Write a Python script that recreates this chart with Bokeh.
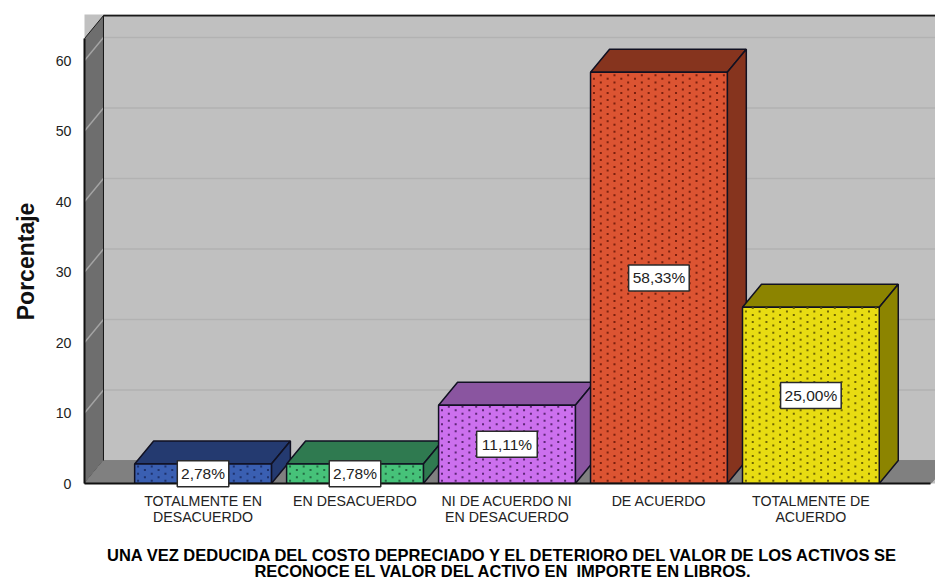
import math

from bokeh.plotting import figure
from bokeh.models import FixedTicker, Range1d
from bokeh.core.properties import value
from bokeh.embed import file_html
from bokeh.resources import INLINE

# Survey responses, percent of respondents
categories = ["TOTALMENTE EN\nDESACUERDO", "EN DESACUERDO", "NI DE ACUERDO NI\nEN DESACUERDO",
              "DE ACUERDO", "TOTALMENTE DE\nACUERDO"]
percentages = [2.78, 2.78, 11.11, 58.33, 25.00]
value_labels = ["2,78%", "2,78%", "11,11%", "58,33%", "25,00%"]
front_colors = ["#3A5FB2", "#46C279", "#CC70EE", "#DC5432", "#E8DC12"]
shade_colors = ["#243A70", "#2F7A50", "#8A55A0", "#86341E", "#8C8400"]
stipple_colors = ["#1A2A60", "#1E5A3A", "#4A1A60", "#6A1808", "#5A5200"]
y_ticks = [0, 10, 20, 30, 40, 50, 60]
y_title = "Porcentaje"
x_title_lines = ["UNA VEZ DEDUCIDA DEL COSTO DEPRECIADO Y EL DETERIORO DEL VALOR DE LOS ACTIVOS SE",
                 "RECONOCE EL VALOR DEL ACTIVO EN\u00a0 IMPORTE EN LIBROS."]

# Pseudo-3D box geometry, in axis units
BAR_HALF = 0.45
DEPTH_X = 0.125
DEPTH_Y = 3.26
AXIS_TOP = 63.12
X_LEFT = -0.78
X_RIGHT = 4.82
FLOOR_END = 4.79
# Stipple lattice spacing, in axis units
STIPPLE_DX = 0.045
STIPPLE_DY = 1.0
# Anchors of the titles that sit outside the plot frame, in axis units
X_TITLE_POS = (1.975, [-10.2, -12.48])
Y_TITLE_POS = (-1.168, 31.5)

p = figure(width=935, height=581, output_backend="svg", toolbar_location=None,
           x_range=Range1d(X_LEFT, X_RIGHT), y_range=Range1d(0, AXIS_TOP + DEPTH_Y + 0.15),
           min_border_left=84, min_border_right=0, min_border_top=14, min_border_bottom=98,
           background_fill_color="#C0C0C0", border_fill_color="white", outline_line_color=None)
p.grid.visible = False

# Left wall and floor of the chart box
wall_x = [X_LEFT, X_LEFT + DEPTH_X, X_LEFT + DEPTH_X, X_LEFT]
wall_y = [0, DEPTH_Y, AXIS_TOP + DEPTH_Y, AXIS_TOP]
p.patch(wall_x, wall_y, fill_color="#6E6E6E", line_color="#1A1A1A", line_width=1)
floor_x = [X_LEFT, X_LEFT + DEPTH_X, FLOOR_END + DEPTH_X, FLOOR_END]
floor_y = [0, DEPTH_Y, DEPTH_Y, 0]
p.patch(floor_x, floor_y, fill_color="#808080", line_color="#808080", line_width=1)

# Gridlines on the back wall and their continuation across the left wall
ticks_up = [t + DEPTH_Y for t in y_ticks[1:]]
p.segment(X_LEFT + DEPTH_X, ticks_up, X_RIGHT, ticks_up, line_color="#B2B2B2", line_width=1.5)
p.segment(X_LEFT, y_ticks[1:], X_LEFT + DEPTH_X, ticks_up, line_color="#A4A4A4", line_width=1.5)
p.segment(X_LEFT + DEPTH_X, AXIS_TOP + DEPTH_Y, X_RIGHT, AXIS_TOP + DEPTH_Y, line_color="#1A1A1A", line_width=2)
p.segment(X_LEFT + DEPTH_X, DEPTH_Y, X_LEFT + DEPTH_X, AXIS_TOP + DEPTH_Y, line_color="#1A1A1A", line_width=1)

# Boxes: shaded top and side faces, then the front face with its staggered stipple
positions = list(range(len(percentages)))
for i, v in zip(positions, percentages):
    left, right = i - BAR_HALF, i + BAR_HALF
    p.patch([left, left + DEPTH_X, right + DEPTH_X, right], [v, v + DEPTH_Y, v + DEPTH_Y, v],
            fill_color=shade_colors[i], line_color="#111122", line_width=1.5)
    p.patch([right, right + DEPTH_X, right + DEPTH_X, right], [0, DEPTH_Y, v + DEPTH_Y, v],
            fill_color=shade_colors[i], line_color="#111122", line_width=1.5)
    p.quad(left=left, right=right, bottom=0, top=v, fill_color=front_colors[i],
           line_color="#111122", line_width=1.5)
    dots_x, dots_y = [], []
    column = 0
    x = left + STIPPLE_DX / 2
    while x < right:
        y = STIPPLE_DY * (0.4 + 0.5 * (column % 2))
        while y < v:
            dots_x.append(x)
            dots_y.append(y)
            y += STIPPLE_DY
        x += STIPPLE_DX
        column += 1
    p.scatter(dots_x, dots_y, marker="square", size=2, fill_color=stipple_colors[i],
              line_color=None, fill_alpha=0.85)

# Value tags centred on each front face
tag_y = [v / 2 for v in percentages]
tag_w = [6.0 + 9.1 * len(t) for t in value_labels]
p.rect(positions, tag_y, width=tag_w, height=26, width_units="screen", height_units="screen",
       fill_color="white", line_color="#2A2A2A", line_width=1.5, level="overlay")
p.text(positions, tag_y, text=value_labels, text_align="center", text_baseline="middle",
       text_font=value("Liberation Sans"), text_font_size="15.5px", text_color="#222222",
       level="overlay")

# Axes
p.yaxis.ticker = FixedTicker(ticks=y_ticks)
p.yaxis.bounds = (0, AXIS_TOP)
p.yaxis.major_tick_line_color = None
p.yaxis.minor_tick_line_color = None
p.yaxis.axis_line_color = "#111111"
p.yaxis.axis_line_width = 2
p.yaxis.major_label_text_font = "Liberation Sans"
p.yaxis.major_label_text_font_size = "14.2px"
p.yaxis.major_label_text_color = "#222222"
p.yaxis.major_label_standoff = 7

p.xaxis.ticker = FixedTicker(ticks=positions)
p.xaxis.major_label_overrides = dict(zip(positions, categories))
p.xaxis.bounds = (X_LEFT, FLOOR_END)
p.xaxis.major_tick_line_color = None
p.xaxis.minor_tick_line_color = None
p.xaxis.axis_line_color = "#111111"
p.xaxis.axis_line_width = 2
p.xaxis.major_label_text_font = "Liberation Sans"
p.xaxis.major_label_text_font_size = "14.2px"
p.xaxis.major_label_text_color = "#222222"
p.xaxis.major_label_text_line_height = 1.0
p.xaxis.major_label_standoff = 3

# Axis titles, placed off-centre from the frame
p.text([Y_TITLE_POS[0]], [Y_TITLE_POS[1]], text=[y_title], angle=math.pi / 2, text_align="center",
       text_baseline="middle", text_font=value("Liberation Sans"), text_font_style="bold",
       text_font_size="23px", text_color="#111111", level="overlay")
p.text([X_TITLE_POS[0]] * 2, X_TITLE_POS[1], text=x_title_lines, text_align="center",
       text_baseline="middle", text_font=value("Liberation Sans"), text_font_style="bold",
       text_font_size="16.5px", text_color="#000000", level="overlay")

open("out.html", "w").write(file_html(p, INLINE))
